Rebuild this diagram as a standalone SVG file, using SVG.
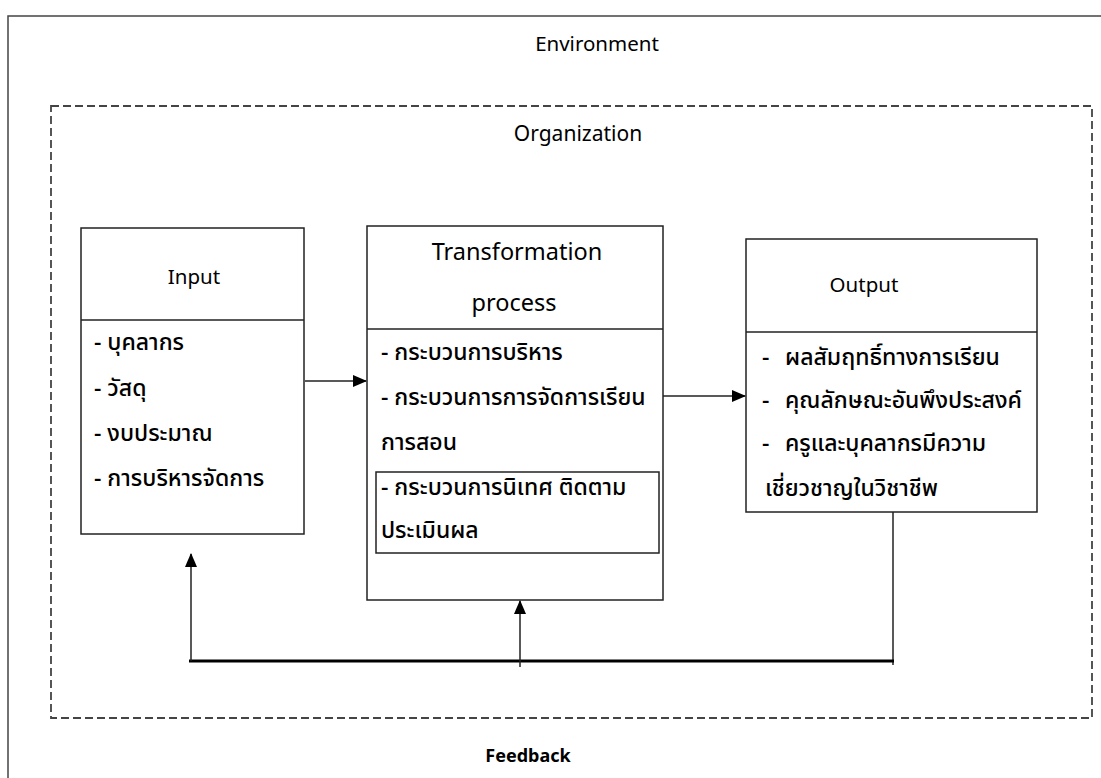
<svg xmlns="http://www.w3.org/2000/svg" width="1101" height="778" viewBox="0 0 1101 778">
<style>
text{font-family:"Noto Sans","Noto Sans Thai","Leelawadee UI",Tahoma,"DejaVu Sans",sans-serif;fill:#000}
.t{font-size:23px;font-weight:500}
.h{font-size:20.5px;text-anchor:middle}
.box{fill:#fff;stroke:#222;stroke-width:1.5}
.ln{stroke:#222;stroke-width:1.5;fill:none}
</style>
<defs>
<marker id="ah" markerWidth="14" markerHeight="12" refX="13" refY="6" orient="auto" markerUnits="userSpaceOnUse" viewBox="0 0 14 12">
<path d="M0,0 L14,6 L0,12 z" fill="#000"/>
</marker>
</defs>
<rect width="1101" height="778" fill="#fff"/>
<g id="environment">
<rect x="8" y="16" width="1120" height="800" fill="none" stroke="#444" stroke-width="1.5"/>
<text x="597" y="51" class="h">Environment</text>
</g>
<g id="organization">
<rect x="51" y="106" width="1041" height="612" fill="none" stroke="#444" stroke-width="1.8" stroke-dasharray="8,4"/>
<text x="578" y="141" class="h" style="font-size:21px">Organization</text>
</g>
<g id="input">
<rect x="81" y="228" width="223" height="306" class="box"/>
<line x1="81" y1="320" x2="304" y2="320" class="ln"/>
<text x="194" y="284" class="h">Input</text>
<text x="94" y="350" class="t">- บุคลากร</text>
<text x="94" y="396" class="t">- วัสดุ</text>
<text x="94" y="441" class="t">- งบประมาณ</text>
<text x="94" y="486" class="t">- การบริหารจัดการ</text>
</g>
<g id="transformation">
<rect x="367" y="226" width="296" height="374" class="box"/>
<line x1="367" y1="329" x2="663" y2="329" class="ln"/>
<text x="517" y="260" class="h" style="font-size:23.5px">Transformation</text>
<text x="514" y="311" class="h" style="font-size:23.5px">process</text>
<text x="381" y="360" class="t">- กระบวนการบริหาร</text>
<text x="381" y="405" class="t">- กระบวนการการจัดการเรียน</text>
<text x="381" y="450" class="t">การสอน</text>
<rect x="376" y="472" width="283" height="81" class="box"/>
<text x="381" y="495" class="t">- กระบวนการนิเทศ ติดตาม</text>
<text x="381" y="538" class="t">ประเมินผล</text>
</g>
<g id="output">
<rect x="746" y="239" width="291" height="273" class="box"/>
<line x1="746" y1="332" x2="1037" y2="332" class="ln"/>
<text x="864" y="292" class="h">Output</text>
<text x="762" y="365" class="t">-</text><text x="785" y="365" class="t">ผลสัมฤทธิ์ทางการเรียน</text>
<text x="762" y="408" class="t">-</text><text x="785" y="408" class="t">คุณลักษณะอันพึงประสงค์</text>
<text x="762" y="451" class="t">-</text><text x="785" y="451" class="t">ครูและบุคลากรมีความ</text>
<text x="765" y="496" class="t">เชี่ยวชาญในวิชาชีพ</text>
</g>
<g id="connectors">
<line x1="305" y1="381" x2="366" y2="381" class="ln" marker-end="url(#ah)"/>
<line x1="663" y1="396" x2="745" y2="396" class="ln" marker-end="url(#ah)"/>
<polyline points="893,512 893,665" class="ln"/>
<line x1="189" y1="661" x2="894" y2="661" stroke="#000" stroke-width="3"/>
<line x1="191" y1="661" x2="191" y2="554" class="ln" marker-end="url(#ah)"/>
<line x1="520" y1="667" x2="520" y2="601" class="ln" marker-end="url(#ah)"/>
</g>
<g id="feedback">
<text x="528" y="762" class="h" style="font-size:18px;font-weight:bold">Feedback</text>
</g>
</svg>
